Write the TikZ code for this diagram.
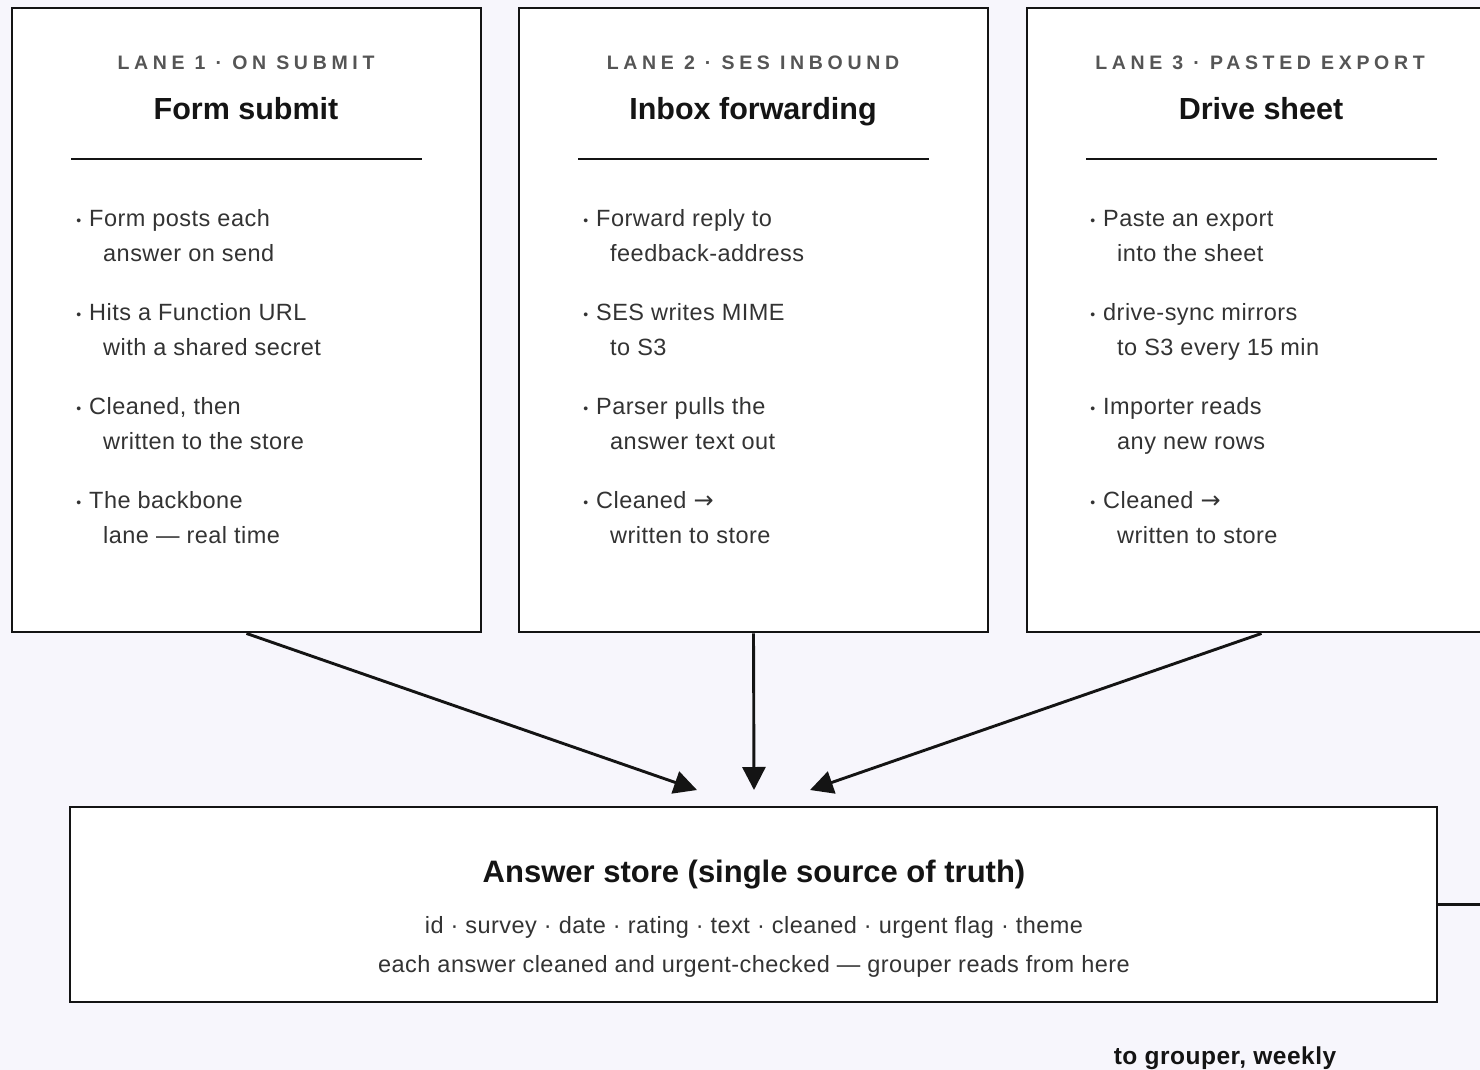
\documentclass[tikz,border=0pt]{standalone}
\usepackage{fontspec}
\setmainfont{Liberation Sans}
\newfontfamily\lanefont[LetterSpace=24]{Liberation Sans}
\newfontfamily\bodyfont[LetterSpace=2]{Liberation Sans}
\newfontfamily\arrowfont{DejaVu Sans}
\usetikzlibrary{arrows.meta}
\definecolor{bgc}{HTML}{F7F6FC}
\definecolor{ink}{HTML}{141414}
\definecolor{bodyc}{HTML}{333333}
\definecolor{tagc}{HTML}{555555}
\tikzset{
  lanebox/.style={draw=ink, line width=2.9pt, fill=white, minimum width=469pt, minimum height=624pt, inner sep=0pt},
  storebox/.style={draw=ink, line width=2.9pt, fill=white, minimum width=1367pt, minimum height=195pt, inner sep=0pt},
  tag/.style={anchor=base, inner sep=0pt, text=tagc, font=\lanefont\bfseries\fontsize{19.5}{22}\selectfont},
  title/.style={anchor=base, inner sep=0pt, text=ink, font=\bfseries\fontsize{30.5}{34}\selectfont},
  rule/.style={draw=ink, line width=2.9pt},
  item/.style={anchor=base west, inner sep=0pt, align=left, text=bodyc, font=\bodyfont\fontsize{23.5}{35}\selectfont},
  storetext/.style={anchor=base, inner sep=0pt, text=bodyc, font=\bodyfont\fontsize{23.5}{26}\selectfont},
  flow/.style={draw=ink, line width=2.9pt, -{Triangle[length=23pt,width=23pt]}},
}
% bullet that hangs to the left of the first line
\newcommand{\bul}{\makebox[0pt][r]{\fontsize{14}{14}\selectfont\raisebox{1pt}{•}\hspace{8pt}}}
\newcommand{\cont}{\hspace*{14pt}}
\newcommand{\toarrow}{{\arrowfont\fontsize{24}{24}\selectfont →}}
\begin{document}
\begin{tikzpicture}[x=1pt,y=-1pt]
\useasboundingbox (0,0) rectangle (1480,1070);
\clip (0,0) rectangle (1480,1070);
\fill[bgc] (0,0) rectangle (1480,1070);

% ---- lane boxes ----
\node[lanebox] (lane1) at (246.5,320) {};
\node[lanebox] (lane2) at (753.5,320) {};
\node[lanebox] (lane3) at (1261.5,320) {};

% lane 1 (item anchors sit on the baseline of the second line)
\node[tag] (tag1) at (246,70) {LANE 1 · ON SUBMIT};
\node[title] (ttl1) at (246,120) {Form submit};
\draw[rule] (71,159) -- (422,159);
\node[item] (a1) at (89,261) {\bul Form posts each\\\cont answer on send};
\node[item] (a2) at (89,355) {\bul Hits a Function URL\\\cont with a shared secret};
\node[item] (a3) at (89,449) {\bul Cleaned, then\\\cont written to the store};
\node[item] (a4) at (89,543) {\bul The backbone\\\cont lane — real time};

% lane 2
\node[tag] (tag2) at (753,70) {LANE 2 · SES INBOUND};
\node[title] (ttl2) at (753,120) {Inbox forwarding};
\draw[rule] (578,159) -- (929,159);
\node[item] (b1) at (596,261) {\bul Forward reply to\\\cont feedback-address};
\node[item] (b2) at (596,355) {\bul SES writes MIME\\\cont to S3};
\node[item] (b3) at (596,449) {\bul Parser pulls the\\\cont answer text out};
\node[item] (b4) at (596,543) {\bul Cleaned \toarrow\\\cont written to store};

% lane 3
\node[tag] (tag3) at (1260,70) {LANE 3 · PASTED EXPORT};
\node[title] (ttl3) at (1261,120) {Drive sheet};
\draw[rule] (1086,159) -- (1437,159);
\node[item] (c1) at (1103,261) {\bul Paste an export\\\cont into the sheet};
\node[item] (c2) at (1103,355) {\bul drive-sync mirrors\\\cont to S3 every 15 min};
\node[item] (c3) at (1103,449) {\bul Importer reads\\\cont any new rows};
\node[item] (c4) at (1103,543) {\bul Cleaned \toarrow\\\cont written to store};

% ---- answer store ----
\node[storebox] (store) at (753.5,904.5) {};
\node[title, font=\bfseries\fontsize{31}{34}\selectfont] (stitle) at (754,882) {Answer store (single source of truth)};
\node[storetext] (sfields) at (754,933) {id · survey · date · rating · text · cleaned · urgent flag · theme};
\node[storetext] (snote) at (754,972) {each answer cleaned and urgent-checked — grouper reads from here};

% ---- flows into the store ----
\coordinate (in1) at (697,790);
\coordinate (in2) at (754,790);
\coordinate (in3) at (810,790);
\draw[flow] (lane1.south) -- (in1);
\draw[flow] (lane2.south) -- (in2);
\draw[flow] (lane3.south) -- (in3);

% ---- out to the grouper ----
\coordinate (outR) at (1480,904.5);
\draw[rule] (store.east) -- (outR);
\node[anchor=base, inner sep=0pt, text=ink, font=\bodyfont\bfseries\fontsize{24.5}{26}\selectfont] (grp) at (1225,1064) {to grouper, weekly};
\end{tikzpicture}
\end{document}
